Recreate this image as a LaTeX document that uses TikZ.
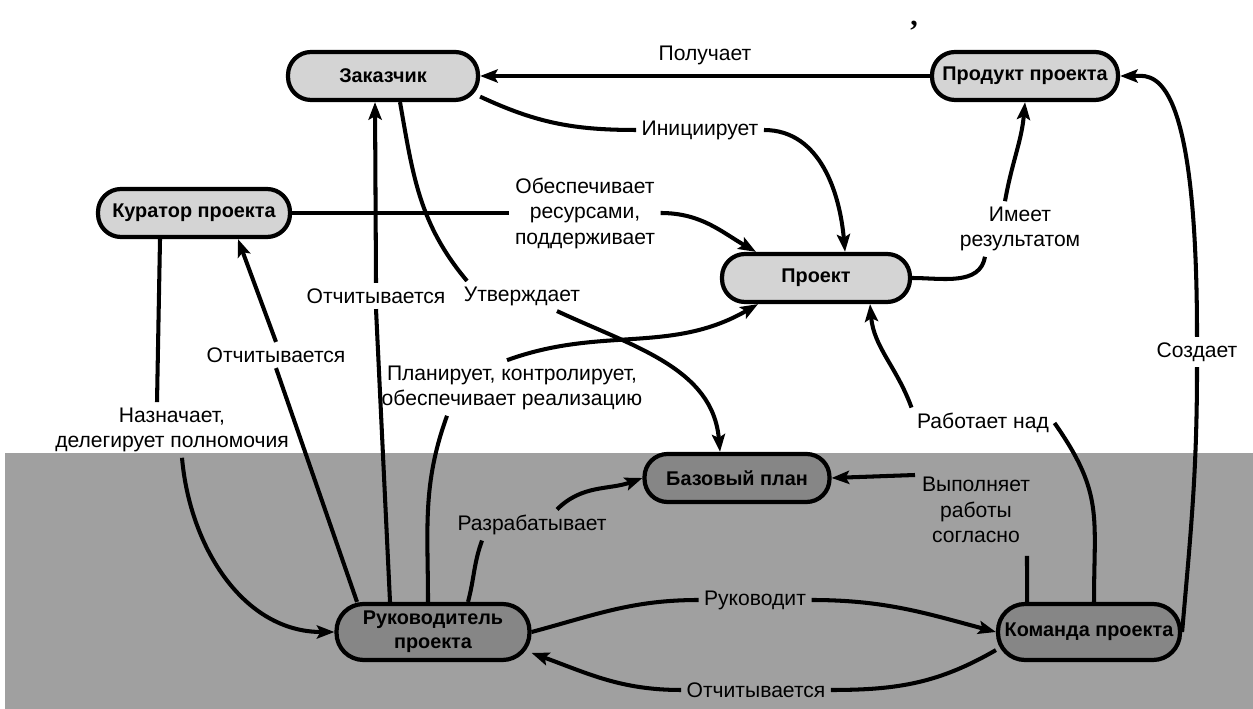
\documentclass[tikz,border=0pt]{standalone}
\usepackage{fontspec}
\setmainfont{Liberation Sans}
\newfontfamily\commafont{Liberation Serif}
\usetikzlibrary{positioning, calc, arrows.meta}

\definecolor{bgGrey}{RGB}{160,160,160}
\definecolor{lightFill}{RGB}{212,212,212}
\definecolor{darkFill}{RGB}{134,134,134}

\tikzset{
  topbox/.style={draw, line width=2.4pt, fill=lightFill, rounded corners=0.46cm,
    minimum height=0.96cm, inner sep=2pt, align=center,
    font=\bfseries\fontsize{11.3}{13.5}\selectfont},
  lowbox/.style={topbox, fill=darkFill},
  tallbox/.style={minimum height=1.12cm, rounded corners=0.54cm},
  conn/.style={line width=2.3pt, -{Stealth[length=10pt,width=7.5pt,inset=2pt]}},
  link/.style={line width=2.3pt},
  lab/.style={font=\fontsize{12}{14.5}\selectfont, align=center, inner sep=3pt}
}

\begin{document}
\begin{tikzpicture}[x=0.02cm, y=0.02cm]
  \useasboundingbox (0,0) rectangle (1253,709);
  % lower grey band
  \fill[bgGrey] (5,0) rectangle (1253,256);

  % roles and objects
  \node[topbox, minimum width=3.8cm] (zak) at (383,633) {Заказчик};
  \node[topbox, minimum width=3.72cm] (prod) at (1025,633) {Продукт проекта};
  \node[topbox, minimum width=3.84cm] (kur) at (194,496) {Куратор проекта};
  \node[topbox, minimum width=3.76cm] (proj) at (816,431) {Проект};
  \node[lowbox, minimum width=3.7cm] (baz) at (737,231) {Базовый план};
  \node[lowbox, tallbox, minimum width=3.86cm] (rp) at (433,77) {Руководитель\\проекта};
  \node[lowbox, tallbox, minimum width=3.64cm] (kom) at (1089,77) {Команда проекта};

  % labels
  \node[lab] (ini) at (700,579) {Инициирует};
  \node[lab] (obes) at (585,496) {Обеспечивает\\ресурсами,\\поддерживает};
  \node[lab] (res) at (1020,480) {Имеет\\результатом};
  \node[lab] (sozd) at (1197,357) {Создает};
  \node[lab] (rab) at (983,286) {Работает над};
  \node[lab] (vyp) at (976,199) {Выполняет\\работы\\согласно};
  \node[lab] (ruk) at (755,109) {Руководит};
  \node[lab] (otch3) at (756,19) {Отчитывается};
  \node[lab] (raz) at (532,184) {Разрабатывает};
  \node[lab] (plan) at (512,321) {Планирует, контролирует,\\обеспечивает реализацию};
  \node[lab] (otch1) at (376,413) {Отчитывается};
  \node[lab] (otch2) at (276,354) {Отчитывается};
  \node[lab] (naz) at (172,279) {Назначает,\\делегирует полномочия};
  \node[lab] (utv) at (522,413) {Утверждает};
  \node[font=\commafont\bfseries\fontsize{17}{17}\selectfont, inner sep=0pt] (comma) at (914,683) {,};

  \coordinate (vypfoot) at (1027,153);
  \coordinate (vyphook) at (915,234);

  % connectors
  \draw[conn] (prod) -- node[lab, above=2pt] (poluch) {Получает} (zak);

  \draw[link] (zak.-12) to[out=-25,in=180] (ini.west);
  \draw[conn] (ini.east) to[out=0,in=95] ([xshift=0.58cm]proj.north);

  \draw[link] (kur.east) -- (obes.west);
  \draw[conn] (obes.east) to[out=0,in=150] ([xshift=-1.2cm]proj.north);

  \draw[link] (proj.east) to[out=0,in=-100] ([xshift=-0.7cm]res.south);
  \draw[conn] ([xshift=-0.3cm]res.north) to[out=80,in=-95] (prod.south);

  \draw[link] (kom.east) to[out=85,in=-90] (sozd.south);
  \draw[conn] (sozd.north) .. controls (1197,650) and (1150,633) .. (prod.east);

  \draw[link] ([xshift=0.1cm]kom.north) to[out=90,in=-55,looseness=1.2] (rab.east);
  \draw[conn] (rab.north west) to[out=110,in=-85] ([xshift=1.08cm]proj.south);

  \draw[link] ([xshift=-1.24cm]kom.north) -- (vypfoot);
  \draw[conn] (vyphook) -- (baz.east);

  \draw[link] (rp.east) to[out=15,in=180] (ruk.west);
  \draw[conn] (ruk.east) to[out=0,in=165] (kom.west);

  \draw[link] (kom.191) to[out=-150,in=0] (otch3.east);
  \draw[conn] (otch3.west) to[out=180,in=-20] (rp.-12);

  \draw[link] ([xshift=0.7cm]rp.north) to[out=75,in=-110] ([xshift=-1cm]raz.south);
  \draw[conn] ([xshift=0.5cm]raz.north) to[out=45,in=200] (baz.west);

  \draw[link] ([xshift=-0.1cm]rp.north) to[out=90,in=-110] ([xshift=-1.3cm]plan.south);
  \draw[conn] ([xshift=-0.1cm]plan.north) to[out=20,in=-150] ([xshift=-1.16cm]proj.south);

  \draw[link] ([xshift=-0.86cm]rp.north) -- (otch1.south);
  \draw[conn] (otch1.north) -- ([xshift=-0.16cm]zak.south);

  \draw[link] ([xshift=-1.52cm]rp.north) -- (otch2.south);
  \draw[conn] (otch2.north) -- ([xshift=0.88cm]kur.south);

  \draw[link] ([xshift=-0.68cm]kur.south) -- ([xshift=-0.3cm]naz.north);
  \draw[conn] ([xshift=0.2cm]naz.south) to[out=-85,in=180] (rp.west);

  \draw[link] ([xshift=0.34cm]zak.south) to[out=-80,in=130] ([xshift=-1.1cm]utv.north);
  \draw[conn] ([xshift=0.7cm]utv.south) to[out=-25,in=95] ([xshift=-0.34cm]baz.north);
\end{tikzpicture}
\end{document}
